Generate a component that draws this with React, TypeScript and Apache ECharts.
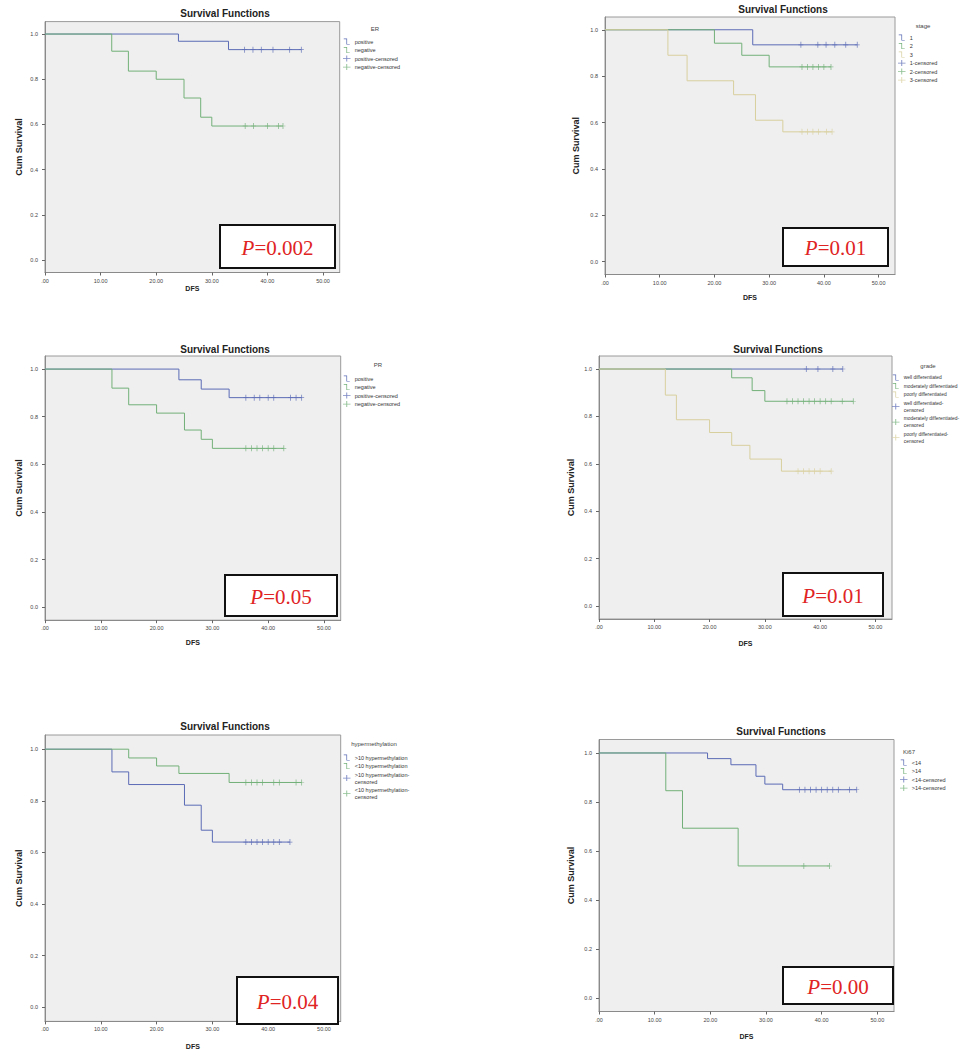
import React, { useEffect, useRef } from "react";
import * as echarts from "echarts";

// ---------- tick labels ----------
const yTicks = [0, 0.2, 0.4, 0.6, 0.8, 1.0];
const xTicks = [0, 10, 20, 30, 40, 50];

// ---------- Panel 1: ER ----------
const erPositiveSteps = [[0, 1], [24, 0.968], [33, 0.931]];
const erPositiveCensor = [35.9, 37.4, 38.9, 41, 44, 46.1];
const erNegativeSteps = [[0, 1], [12, 0.924], [15, 0.836], [20, 0.8], [25, 0.717], [28, 0.632], [30, 0.593]];
const erNegativeCensor = [36, 37.5, 40, 42, 42.8];

// ---------- Panel 2: stage ----------
const stage1Steps = [[0, 1], [27, 0.935]];
const stage1Censor = [35.8, 38.9, 40.4, 42, 44, 46.1];
const stage2Steps = [[0, 1], [20, 0.942], [25, 0.89], [30, 0.84]];
const stage2Censor = [36, 37, 38, 39, 40, 41.3];
const stage3Steps = [[0, 1], [11.5, 0.89], [15, 0.78], [23.5, 0.72], [27.5, 0.61], [32.5, 0.56]];
const stage3Censor = [36, 37, 38, 39, 40.5, 41.5];

// ---------- Panel 3: PR ----------
const prPositiveSteps = [[0, 1], [24, 0.955], [28, 0.916], [33, 0.88]];
const prPositiveCensor = [36, 37.5, 38.5, 40, 41, 44, 45, 46];
const prNegativeSteps = [[0, 1], [12, 0.92], [15, 0.85], [20, 0.815], [25, 0.744], [28, 0.705], [30, 0.667]];
const prNegativeCensor = [36, 37, 38, 39, 40, 41, 42.8];

// ---------- Panel 4: grade ----------
const wellSteps = [[0, 1]];
const wellCensor = [37.5, 39.6, 42.3, 44.1];
const moderatelySteps = [[0, 1], [24, 0.963], [27.7, 0.909], [30, 0.864]];
const moderatelyCensor = [34, 35, 36, 37, 38, 39, 40, 41, 42, 44, 46];
const poorlySteps = [[0, 1], [12, 0.89], [14, 0.786], [20, 0.732], [24, 0.678], [27.3, 0.62], [33, 0.569]];
const poorlyCensor = [36, 37, 38, 39, 40, 42];

// ---------- Panel 5: hypermethylation ----------
const hyperHighSteps = [[0, 1], [12, 0.912], [15, 0.863], [25, 0.783], [28, 0.686], [30, 0.64]];
const hyperHighCensor = [36, 37, 38, 39, 40, 41, 42, 43.9];
const hyperLowSteps = [[0, 1], [15, 0.966], [20, 0.935], [24, 0.906], [33, 0.871]];
const hyperLowCensor = [36, 37, 38, 39, 41, 42, 45, 46];

// ---------- Panel 6: Ki67 ----------
const ki67LowSteps = [[0, 1], [19.5, 0.977], [23.7, 0.952], [28.2, 0.905], [29.8, 0.873], [33, 0.85]];
const ki67LowCensor = [36, 37, 38, 39, 40, 41, 42, 43, 45, 46.3];
const ki67HighSteps = [[0, 1], [12, 0.846], [15, 0.693], [25, 0.539]];
const ki67HighCensor = [36.8, 41.4];

// ---------- P values ----------
const pValues = ["0.002", "0.01", "0.05", "0.01", "0.04", "0.00"];

const BLUE = "#5b6bb5";
const GREEN = "#72b078";
const TAN = "#d8cf9e";

function survAt(steps: number[][], t: number) {
  let s = 1;
  for (const [x, y] of steps) if (x <= t) s = y;
  return s;
}

type Group = { label: string; color: string; steps: number[][]; censor: number[] };
type Panel = {
  key: string;
  groupTitle: string;
  groups: Group[];
  grid: { left: number; top: number; width: number; height: number };
  title: [number, number];
  gTitle: [number, number];
  legend: [number, number];
  legendFont: number;
  yGap: number;
  xGap: number;
  pbox: [number, number, number, number];
};

const panels: Panel[] = [
  {
    key: "ER", groupTitle: "ER",
    groups: [
      { label: "positive", color: BLUE, steps: erPositiveSteps, censor: erPositiveCensor },
      { label: "negative", color: GREEN, steps: erNegativeSteps, censor: erNegativeCensor },
    ],
    grid: { left: 45, top: 21.6, width: 294.7, height: 250.9 },
    title: [225, 13], gTitle: [375, 29], legend: [343, 38], legendFont: 5.5, yGap: 22, xGap: 12,
    pbox: [220, 225, 115, 43],
  },
  {
    key: "stage", groupTitle: "stage",
    groups: [
      { label: "1", color: BLUE, steps: stage1Steps, censor: stage1Censor },
      { label: "2", color: GREEN, steps: stage2Steps, censor: stage2Censor },
      { label: "3", color: TAN, steps: stage3Steps, censor: stage3Censor },
    ],
    grid: { left: 605, top: 17, width: 290, height: 257.5 },
    title: [783, 9], gTitle: [923, 26], legend: [898, 34], legendFont: 5.5, yGap: 25, xGap: 19,
    pbox: [783, 228, 105, 38],
  },
  {
    key: "PR", groupTitle: "PR",
    groups: [
      { label: "positive", color: BLUE, steps: prPositiveSteps, censor: prPositiveCensor },
      { label: "negative", color: GREEN, steps: prNegativeSteps, censor: prNegativeCensor },
    ],
    grid: { left: 45, top: 356, width: 295.7, height: 264.2 },
    title: [225, 349], gTitle: [378, 365], legend: [343, 375], legendFont: 5.5, yGap: 22, xGap: 19,
    pbox: [225, 575, 112, 41],
  },
  {
    key: "grade", groupTitle: "grade",
    groups: [
      { label: "well differentiated", color: BLUE, steps: wellSteps, censor: wellCensor },
      { label: "moderately differentiated", color: GREEN, steps: moderatelySteps, censor: moderatelyCensor },
      { label: "poorly differentiated", color: TAN, steps: poorlySteps, censor: poorlyCensor },
    ],
    grid: { left: 599, top: 356, width: 293, height: 263 },
    title: [778, 349], gTitle: [928, 366], legend: [892, 374], legendFont: 4.9, yGap: 24, xGap: 21,
    pbox: [783, 573, 100, 43],
  },
  {
    key: "hyper", groupTitle: "hypermethylation",
    groups: [
      { label: ">10 hypermethylation", color: BLUE, steps: hyperHighSteps, censor: hyperHighCensor },
      { label: "<10 hypermethylation", color: GREEN, steps: hyperLowSteps, censor: hyperLowCensor },
    ],
    grid: { left: 45, top: 735, width: 295.7, height: 286.4 },
    title: [225, 726], gTitle: [374, 744], legend: [343, 754], legendFont: 5.5, yGap: 22, xGap: 22,
    pbox: [237, 977, 101, 47],
  },
  {
    key: "ki67", groupTitle: "Ki67",
    groups: [
      { label: "<14", color: BLUE, steps: ki67LowSteps, censor: ki67LowCensor },
      { label: ">14", color: GREEN, steps: ki67HighSteps, censor: ki67HighCensor },
    ],
    grid: { left: 599, top: 739.5, width: 295, height: 272 },
    title: [781, 731], gTitle: [909, 752], legend: [900, 759], legendFont: 5.5, yGap: 24, xGap: 21,
    pbox: [783, 967, 110, 37],
  },
];

const STEP_ICON = "path://M0,0H5.6V9H10V10H4.4V1.2H0Z";
const CENSOR_ICON = "path://M0,4.5H10V5.5H0ZM4.4,1H5.6V9H4.4Z";
const CENSOR_SYMBOL = "path://M0,4.5H10V5.5H0ZM4.2,0H5.8V10H4.2Z";
const SANS = "'Liberation Sans', Arial, sans-serif";
const SERIF = "'Liberation Serif', 'Times New Roman', serif";

function buildOption() {
  const grid: any[] = [];
  const xAxis: any[] = [];
  const yAxis: any[] = [];
  const series: any[] = [];
  const legend: any[] = [];
  const graphic: any[] = [];

  panels.forEach((p, i) => {
    grid.push({
      ...p.grid,
      show: true,
      backgroundColor: "#efefef",
      borderColor: "#9a9a9a",
      borderWidth: 1,
      containLabel: false,
    });
    xAxis.push({
      gridIndex: i,
      type: "value",
      min: 0,
      max: 53,
      axisLine: { show: true, onZero: false, lineStyle: { color: "#8a8a8a", width: 1 } },
      axisTick: { show: true, length: 3, customValues: xTicks, lineStyle: { color: "#666" } },
      axisLabel: {
        customValues: xTicks,
        formatter: (v: number) => (v === 0 ? ".00" : v.toFixed(2)),
        fontSize: 5.5,
        color: "#444",
        margin: 5,
        fontFamily: SANS,
      },
      splitLine: { show: false },
      name: "DFS",
      nameLocation: "middle",
      nameGap: p.xGap,
      nameTextStyle: { fontSize: 7, fontWeight: "bold", color: "#222", fontFamily: SANS },
    });
    yAxis.push({
      gridIndex: i,
      type: "value",
      min: -0.055,
      max: 1.055,
      axisLine: { show: true, onZero: false, lineStyle: { color: "#8a8a8a", width: 1 } },
      axisTick: { show: true, length: 3, customValues: yTicks, lineStyle: { color: "#666" } },
      axisLabel: {
        customValues: yTicks,
        formatter: (v: number) => v.toFixed(1),
        fontSize: 5.5,
        color: "#444",
        margin: 7,
        fontFamily: SANS,
      },
      splitLine: { show: false },
      name: "Cum Survival",
      nameLocation: "middle",
      nameGap: p.yGap,
      nameTextStyle: { fontSize: 9, fontWeight: "bold", color: "#222", fontFamily: SANS },
    });

    const legendData: any[] = [];
    p.groups.forEach((g) => {
      const last = g.steps[g.steps.length - 1];
      const end = g.censor.length ? g.censor[g.censor.length - 1] : last[0];
      const name = `${p.key}|${g.label}`;
      series.push({
        type: "line",
        name,
        xAxisIndex: i,
        yAxisIndex: i,
        step: "end",
        showSymbol: false,
        symbol: "none",
        color: g.color,
        lineStyle: { color: g.color, width: 1 },
        data: [...g.steps, [end, last[1]]],
        z: 2,
        silent: true,
      });
      legendData.push({ name, icon: STEP_ICON });
    });
    p.groups.forEach((g) => {
      const wrap = p.key === "grade" || p.key === "hyper";
      const name = `${p.key}|${g.label}-${wrap ? "\n" : ""}censored`;
      series.push({
        type: "scatter",
        name,
        xAxisIndex: i,
        yAxisIndex: i,
        symbol: CENSOR_SYMBOL,
        symbolSize: [5, 6],
        color: g.color,
        itemStyle: { color: g.color },
        data: g.censor.map((t) => [t, survAt(g.steps, t)]),
        z: 3,
        silent: true,
      });
      legendData.push({ name, icon: CENSOR_ICON });
    });

    legend.push({
      orient: "vertical",
      left: p.legend[0],
      top: p.legend[1],
      padding: 0,
      itemGap: 1.5,
      itemWidth: 10,
      itemHeight: 6,
      selectedMode: false,
      data: legendData,
      formatter: (n: string) => n.split("|")[1],
      textStyle: {
        fontSize: p.legendFont,
        color: "#333",
        fontFamily: SANS,
        lineHeight: 7,
        padding: [0, 0, 0, -2],
      },
    });

    graphic.push({
      type: "text",
      x: p.title[0],
      y: p.title[1],
      style: {
        text: "Survival Functions",
        align: "center",
        verticalAlign: "middle",
        fill: "#222",
        fontSize: 10,
        fontWeight: "bold",
        fontFamily: SANS,
      },
    });
    graphic.push({
      type: "text",
      x: p.gTitle[0],
      y: p.gTitle[1],
      style: {
        text: p.groupTitle,
        align: "center",
        verticalAlign: "middle",
        fill: "#444",
        fontSize: 6,
        fontFamily: SANS,
      },
    });
    const [bx, by, bw, bh] = p.pbox;
    graphic.push({
      type: "rect",
      shape: { x: bx, y: by, width: bw, height: bh },
      style: { fill: "#ffffff", stroke: "#111", lineWidth: 2 },
      z: 10,
    });
    graphic.push({
      type: "text",
      x: bx + bw / 2,
      y: by + bh / 2 + 1,
      z: 11,
      style: {
        text: `{p|P}{v|=${pValues[i]}}`,
        align: "center",
        verticalAlign: "middle",
        rich: {
          p: { fontSize: 21, fontStyle: "italic", fontFamily: SERIF, fill: "#e02424", color: "#e02424" },
          v: { fontSize: 21, fontFamily: SERIF, fill: "#e02424", color: "#e02424" },
        },
      },
    });
  });

  return {
    animation: false,
    backgroundColor: "#ffffff",
    grid,
    xAxis,
    yAxis,
    series,
    legend,
    graphic,
  };
}

export default function App() {
  const ref = useRef<HTMLDivElement>(null);
  useEffect(() => {
    if (!ref.current) return;
    const chart = echarts.init(ref.current, undefined, { renderer: "svg" });
    chart.setOption(buildOption() as any);
    return () => chart.dispose();
  }, []);
  return (
    <div
      ref={ref}
      style={{ position: "absolute", left: 0, top: 0, width: 965, height: 1053, background: "#fff" }}
    />
  );
}
